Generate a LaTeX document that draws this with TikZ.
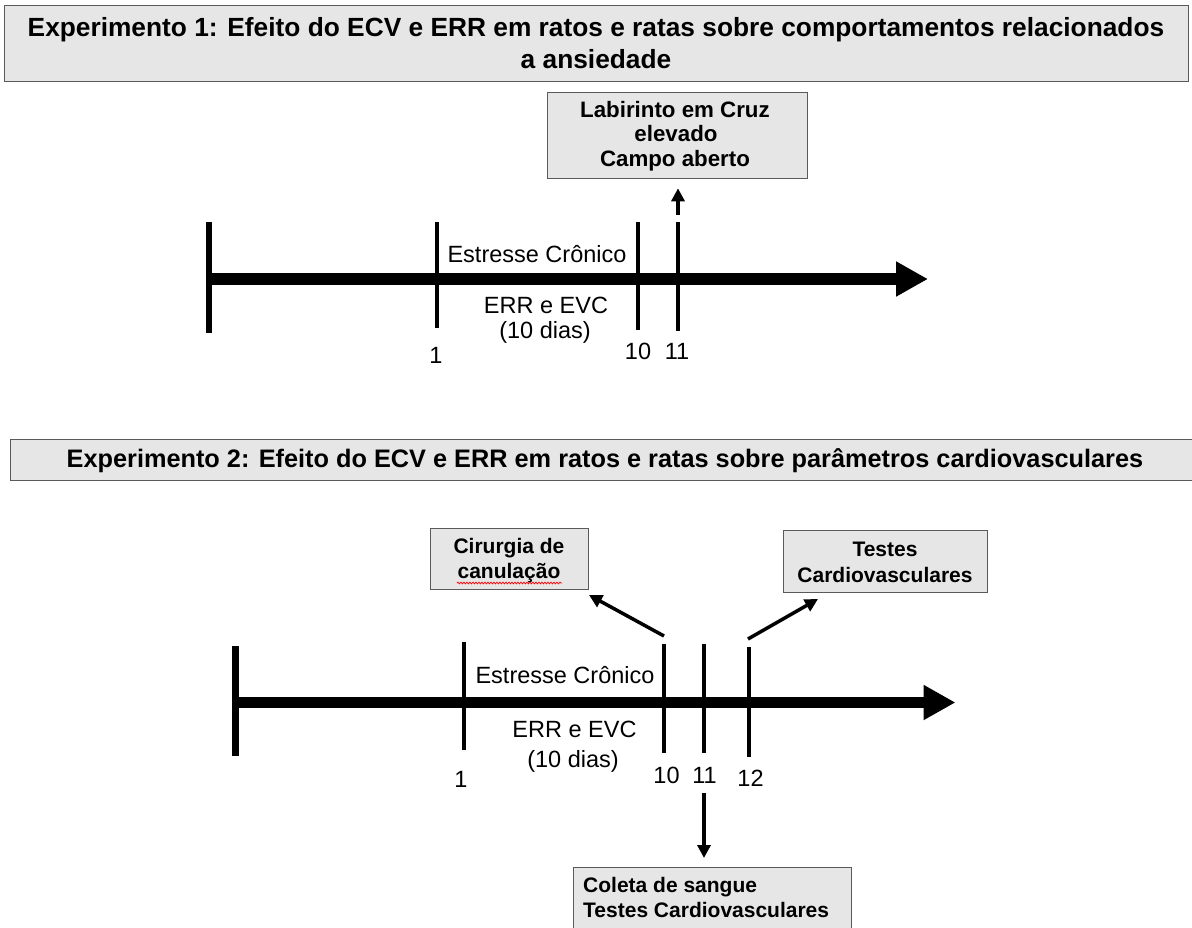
\documentclass[tikz,border=0pt]{standalone}
\usepackage{fontspec}
\setmainfont{Liberation Sans}
\usetikzlibrary{arrows.meta,decorations.pathmorphing,calc}
\definecolor{boxfill}{HTML}{E6E6E6}
\definecolor{boxline}{HTML}{5A5A5A}
\tikzset{
  box/.style={draw=boxline, line width=1.3pt, fill=boxfill, inner sep=0pt, anchor=north west},
  ttl/.style={font=\fontsize{26.3}{31}\selectfont\bfseries, anchor=base, inner sep=0pt},
  ttlb/.style={font=\fontsize{25.3}{30}\selectfont\bfseries, anchor=base, inner sep=0pt},
  btxt/.style={font=\fontsize{21}{25}\selectfont\bfseries, anchor=base, inner sep=0pt},
  btxtl/.style={font=\fontsize{22.3}{26}\selectfont\bfseries, anchor=base, inner sep=0pt},
  lbl/.style={font=\fontsize{23.5}{28}\selectfont, anchor=base, inner sep=0pt},
  axisline/.style={line width=12pt, -{Triangle[length=32pt,width=33pt]}},
  barline/.style={line width=6.5pt},
  tickline/.style={line width=3.5pt},
  conn/.style={line width=3.5pt, -{Triangle[length=13pt,width=13pt]}},
  spell/.style={draw=red, line width=0.7pt, decorate, decoration={snake, amplitude=0.9pt, segment length=3pt}},
}
\begin{document}
\begin{tikzpicture}[x=1pt,y=-1pt]
\useasboundingbox[fill=white] (0,0) rectangle (1192,927);

% ---------- Experiment 1 ----------
\node[box, minimum width=1184pt, minimum height=76pt] (t1) at (4,5) {};
\node[ttl] (t1a) at (596,36) {Experimento 1: Efeito do ECV e ERR em ratos e ratas sobre comportamentos relacionados};
\node[ttl] (t1b) at (596,68) {a ansiedade};

\node[box, minimum width=260pt, minimum height=86pt] (lab) at (547,92) {};
\node[btxtl] (lab1) at (675,117) {Labirinto em Cruz};
\node[btxtl] (lab2) at (676,141.5) {elevado};
\node[btxtl] (lab3) at (675,166) {Campo aberto};

\coordinate (a1l) at (209,279);
\coordinate (a1r) at (928,279);
\draw[axisline] (a1l) -- (a1r);
\draw[barline] (209,222) -- (209,333);
\draw[tickline] (437,222) -- (437,328);
\draw[tickline] (638,222) -- (638,330);
\draw[tickline] (678,222) -- (678,331);

\coordinate (u1) at (678,215);
\draw[conn, shorten >=9pt] (u1) -- (u1 |- lab.south);

\node[lbl] (e1s) at (537,262) {Estresse Crônico};
\node[lbl] (e1e) at (546,313) {ERR e EVC};
\node[lbl] (e1d) at (545,338) {(10 dias)};
\node[lbl] (e1n1) at (436,363) {1};
\node[lbl] (e1n10) at (638,359) {10};
\node[lbl] (e1n11) at (677,359) {11};

% ---------- Experiment 2 ----------
\node[box, minimum width=1200pt, minimum height=41pt] (t2) at (10,439) {};
\node[ttlb] (t2a) at (605,467) {Experimento 2: Efeito do ECV e ERR em ratos e ratas sobre parâmetros cardiovasculares};

\node[box, minimum width=158.5pt, minimum height=61pt] (cir) at (429.5,528) {};
\node[btxt] (cir1) at (509,553) {Cirurgia de};
\node[btxt] (cir2) at (509,578) {canulação};
\draw[spell] (457,583) -- (562,583);

\node[box, minimum width=204pt, minimum height=62pt] (tes) at (783,530) {};
\node[btxt] (tes1) at (885,556) {Testes};
\node[btxt] (tes2) at (885,582) {Cardiovasculares};

\node[box, minimum width=278pt, minimum height=80pt] (col) at (573,867) {};
\node[btxt, anchor=base west] (col1) at (583,892) {Coleta de sangue};
\node[btxt, anchor=base west] (col2) at (583,917) {Testes Cardiovasculares};

\coordinate (a2l) at (235.5,702.5);
\coordinate (a2r) at (955.5,702.5);
\draw[axisline, line width=11pt] (a2l) -- (a2r);
\draw[barline] (235.5,646) -- (235.5,756);
\draw[tickline] (464,642) -- (464,750);
\draw[tickline] (664,644) -- (664,753);
\draw[tickline] (704,644) -- (704,753);
\draw[tickline] (749,647) -- (749,757);

\coordinate (c1s) at (664,636);
\coordinate (c1e) at (589,595);
\draw[conn] (c1s) -- (c1e);
\coordinate (c2s) at (748,639);
\coordinate (c2e) at (818,599);
\draw[conn] (c2s) -- (c2e);
\coordinate (c3s) at (704,793);
\draw[conn, shorten >=9pt] (c3s) -- (c3s |- col.north);

\node[lbl] (e2s) at (565,683) {Estresse Crônico};
\node[lbl] (e2e) at (574.5,737) {ERR e EVC};
\node[lbl] (e2d) at (573,767) {(10 dias)};
\node[lbl] (e2n1) at (461,787) {1};
\node[lbl] (e2n10) at (666.5,783) {10};
\node[lbl] (e2n11) at (704.5,783) {11};
\node[lbl] (e2n12) at (750.5,786) {12};
\end{tikzpicture}
\end{document}
